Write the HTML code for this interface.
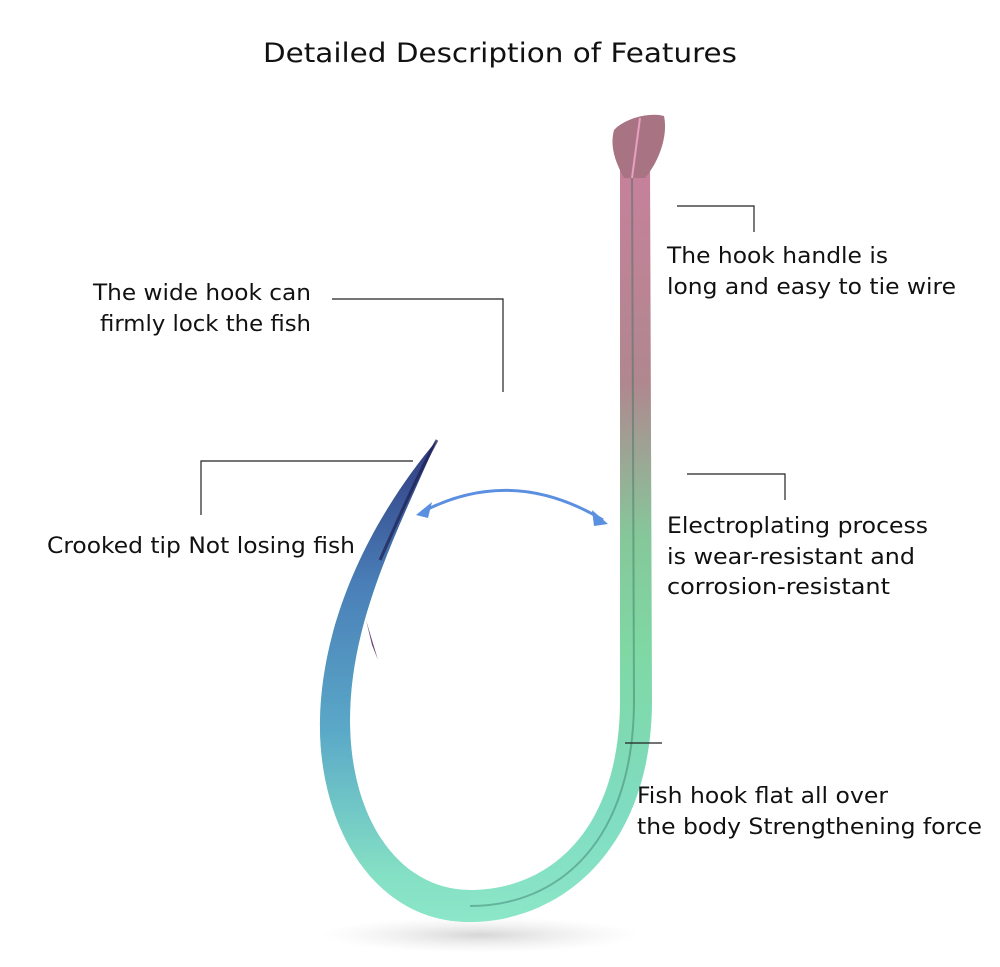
<!DOCTYPE html>
<html><head><meta charset="utf-8"><style>
html,body{margin:0;padding:0;background:#fff;}
body{width:1000px;height:967px;overflow:hidden;position:relative;font-family:"DejaVu Sans",sans-serif;}
</style></head><body>
<svg width="1000" height="967" viewBox="0 0 1000 967" xmlns="http://www.w3.org/2000/svg" style="position:absolute;left:0;top:0">
<defs>
<linearGradient id="g" x1="0" y1="150" x2="0" y2="922" gradientUnits="userSpaceOnUse">
<stop offset="0" stop-color="#c9809c"/>
<stop offset="0.3" stop-color="#b0878f"/>
<stop offset="0.5" stop-color="#86c79a"/>
<stop offset="0.65" stop-color="#7fd8a4"/>
<stop offset="0.85" stop-color="#7fdcc0"/>
<stop offset="1" stop-color="#8ce6c8"/>
</linearGradient>
<linearGradient id="lb" x1="0" y1="440" x2="0" y2="922" gradientUnits="userSpaceOnUse">
<stop offset="0" stop-color="#303a80"/>
<stop offset="0.3" stop-color="#4a7fb8"/>
<stop offset="0.6" stop-color="#5aa8c8"/>
<stop offset="0.9" stop-color="#84e0c4"/>
<stop offset="1" stop-color="#8ce6c8"/>
</linearGradient>
<radialGradient id="shadow" cx="0.5" cy="0.5" r="0.5">
<stop offset="0" stop-color="#bbb" stop-opacity="0.6"/>
<stop offset="1" stop-color="#ddd" stop-opacity="0"/>
</radialGradient>
</defs>
<ellipse cx="480" cy="935" rx="160" ry="18" fill="url(#shadow)"/>
<path d="M650 160 L652 700 C652 850 560 922 470 922 C370 922 318 820 320 720 C322 620 370 520 437 440 C398 530 350 620 350 720 C350 820 400 890 470 890 C550 890 620 830 620 700 L620 160 Z" fill="url(#g)"/>
<path d="M470 922 C370 922 318 820 320 720 C322 620 370 520 437 440 C398 530 350 620 350 720 C350 820 400 890 470 890 Z" fill="url(#lb)"/>
<path d="M632 170 L634 700 C634 840 560 906 470 906" fill="none" stroke="#2f6a5a" stroke-width="2" opacity="0.4"/>
<path d="M380 560 C398 520 415 480 437 440" fill="none" stroke="#1e2050" stroke-width="3" opacity="0.7"/>
<polygon points="366,620 378,660 372,645" fill="#6a4a7a"/>
<path d="M614 130 C625 118 650 112 664 116 C668 135 660 160 645 178 L624 178 C614 160 610 145 614 130 Z" fill="#a87484"/>
<line x1="640" y1="118" x2="632" y2="178" stroke="#e7a0c0" stroke-width="2"/>
<g stroke="#222" stroke-width="1.2" fill="none">
<polyline points="332,299 503,299 503,392"/>
<polyline points="413,461 201,461 201,515"/>
<polyline points="677,206 754,206 754,232"/>
<polyline points="687,474 785,474 785,500"/>
<line x1="625" y1="743" x2="662" y2="743"/>
</g>
<path d="M422 512 Q512 465 603 520" fill="none" stroke="#5b8fe0" stroke-width="3"/>
<polygon points="416,515 432,502 428,518" fill="#5b8fe0"/>
<polygon points="608,524 592,510 594,526" fill="#5b8fe0"/>
<g font-family="DejaVu Sans, sans-serif" fill="#111">
<text x="263" y="62" font-size="27" textLength="474" lengthAdjust="spacingAndGlyphs">Detailed Description of Features</text>
<g font-size="22">
<text x="93" y="300" textLength="218" lengthAdjust="spacingAndGlyphs">The wide hook can</text>
<text x="100" y="331" textLength="211" lengthAdjust="spacingAndGlyphs">firmly lock the fish</text>
<text x="667" y="263" textLength="221" lengthAdjust="spacingAndGlyphs">The hook handle is</text>
<text x="667" y="294" textLength="289" lengthAdjust="spacingAndGlyphs">long and easy to tie wire</text>
<text x="47" y="553" textLength="308" lengthAdjust="spacingAndGlyphs">Crooked tip Not losing fish</text>
<text x="667" y="533" textLength="261" lengthAdjust="spacingAndGlyphs">Electroplating process</text>
<text x="667" y="564" textLength="248" lengthAdjust="spacingAndGlyphs">is wear-resistant and</text>
<text x="667" y="594" textLength="223" lengthAdjust="spacingAndGlyphs">corrosion-resistant</text>
<text x="637" y="803" textLength="251" lengthAdjust="spacingAndGlyphs">Fish hook flat all over</text>
<text x="637" y="834" textLength="345" lengthAdjust="spacingAndGlyphs">the body Strengthening force</text>
</g>
</g>
</svg>
</body></html>
